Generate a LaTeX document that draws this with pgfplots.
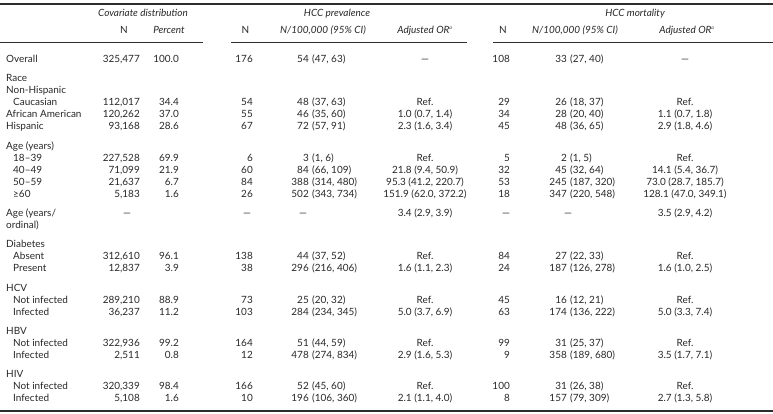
\documentclass[border=0pt]{standalone}
\usepackage{pgfplots}
\usepackage{pgfplotstable}
\pgfplotsset{compat=1.18}
\usepackage{fontspec}
\setmainfont{Lato}
\definecolor{txt}{RGB}{40,40,40}
\definecolor{rule}{RGB}{45,45,45}

\pgfplotsset{
  cell/.style={draw=none, mark=none, nodes near coords, point meta=explicit symbolic,
    every node near coord/.append style={font=\fontsize{10}{12}\selectfont, text=txt, inner sep=0pt, anchor=#1}},
}

% row labels: y (px from top), x (px), label
\pgfplotstableread[col sep=semicolon]{
y;x;label
60;6;Overall
79.3;6;Race
91.3;6;Non-Hispanic
103.3;13;Caucasian
115.3;6;African American
127.3;6;Hispanic
146.6;6;Age (years)
158.6;13;18–39
170.6;13;40–49
182.6;13;50–59
194.6;13;≥60
213.9;6;Age (years/
225.9;6;ordinal)
245.2;6;Diabetes
257.2;13;Absent
269.2;13;Present
288.5;6;HCV
300.5;13;Not infected
312.5;13;Infected
331.8;6;HBV
343.8;13;Not infected
355.8;13;Infected
375.1;6;HIV
387.1;13;Not infected
399.1;13;Infected
}\labels

% data rows
\pgfplotstableread[col sep=semicolon]{
y;N;pct;pN;pr1;pr2;pOR;mN;mr1;mr2;mOR
60;325,477;100.0;176;54;(47, 63);—;108;33;(27, 40);—
103.3;112,017;34.4;54;48;(37, 63);Ref.;29;26;(18, 37);Ref.
115.3;120,262;37.0;55;46;(35, 60);1.0 (0.7, 1.4);34;28;(20, 40);1.1 (0.7, 1.8)
127.3;93,168;28.6;67;72;(57, 91);2.3 (1.6, 3.4);45;48;(36, 65);2.9 (1.8, 4.6)
158.6;227,528;69.9;6;3;(1, 6);Ref.;5;2;(1, 5);Ref.
170.6;71,099;21.9;60;84;(66, 109);21.8 (9.4, 50.9);32;45;(32, 64);14.1 (5.4, 36.7)
182.6;21,637;6.7;84;388;(314, 480);95.3 (41.2, 220.7);53;245;(187, 320);73.0 (28.7, 185.7)
194.6;5,183;1.6;26;502;(343, 734);151.9 (62.0, 372.2);18;347;(220, 548);128.1 (47.0, 349.1)
257.2;312,610;96.1;138;44;(37, 52);Ref.;84;27;(22, 33);Ref.
269.2;12,837;3.9;38;296;(216, 406);1.6 (1.1, 2.3);24;187;(126, 278);1.6 (1.0, 2.5)
300.5;289,210;88.9;73;25;(20, 32);Ref.;45;16;(12, 21);Ref.
312.5;36,237;11.2;103;284;(234, 345);5.0 (3.7, 6.9);63;174;(136, 222);5.0 (3.3, 7.4)
343.8;322,936;99.2;164;51;(44, 59);Ref.;99;31;(25, 37);Ref.
355.8;2,511;0.8;12;478;(274, 834);2.9 (1.6, 5.3);9;358;(189, 680);3.5 (1.7, 7.1)
387.1;320,339;98.4;166;52;(45, 60);Ref.;100;31;(26, 38);Ref.
399.1;5,108;1.6;10;196;(106, 360);2.1 (1.1, 4.0);8;157;(79, 309);2.7 (1.3, 5.8)
}\data

% Age (years/ordinal) row: centred cells
\pgfplotstableread[col sep=semicolon]{
x;y;m
127;213.9;—
247;213.9;—
303;213.9;—
425;213.9;3.4 (2.9, 3.9)
506;213.9;—
568;213.9;—
685;213.9;3.5 (2.9, 4.2)
}\ordinal

\begin{document}
\begin{tikzpicture}
\begin{axis}[
  scale only axis, width=773bp, height=414bp,
  xmin=0, xmax=773, ymin=0, ymax=414, y dir=reverse,
  hide axis, clip=false,
]
% rules
\draw[rule, line width=1.1bp] (axis cs:0,4) -- (axis cs:773,4);
\draw[rule, line width=0.9bp] (axis cs:0,42) -- (axis cs:203,42);
\draw[rule, line width=0.9bp] (axis cs:231,42) -- (axis cs:467,42);
\draw[rule, line width=0.9bp] (axis cs:493,42) -- (axis cs:773,42);
\draw[rule, line width=1.1bp] (axis cs:0,411) -- (axis cs:773,411);

% headers
\begin{scope}[every node/.style={font=\fontsize{10}{12}\selectfont, text=txt, inner sep=0pt, anchor=mid}]
\node at (axis cs:143,14) {\itshape Covariate distribution};
\node at (axis cs:124,31) {N};
\node at (axis cs:169,31) {\itshape Percent};
\node at (axis cs:245.5,31) {N};
\node at (axis cs:337,14) {\itshape HCC prevalence};
\node at (axis cs:323,31) {\itshape N/100,000 (95\% CI)};
\node at (axis cs:425,31) {\itshape Adjusted OR\textsuperscript{\tiny a}};
\node at (axis cs:503,31) {N};
\node at (axis cs:635,14) {\itshape HCC mortality};
\node at (axis cs:575,31) {\itshape N/100,000 (95\% CI)};
\node at (axis cs:687,31) {\itshape Adjusted OR\textsuperscript{\tiny a}};
\end{scope}

% row labels
\addplot[cell=mid west] table[x=x, y=y, meta=label] {\labels};
% covariate distribution
\addplot[cell=mid east] table[x expr=140, y=y, meta=N] {\data};
\addplot[cell=mid east] table[x expr=179, y=y, meta=pct] {\data};
% prevalence
\addplot[cell=mid east] table[x expr=253, y=y, meta=pN] {\data};
\addplot[cell=mid east] table[x expr=309, y=y, meta=pr1] {\data};
\addplot[cell=mid west] table[x expr=312, y=y, meta=pr2] {\data};
\addplot[cell=mid] table[x expr=425, y=y, meta=pOR] {\data};
% mortality
\addplot[cell=mid east] table[x expr=510, y=y, meta=mN] {\data};
\addplot[cell=mid east] table[x expr=567, y=y, meta=mr1] {\data};
\addplot[cell=mid west] table[x expr=570, y=y, meta=mr2] {\data};
\addplot[cell=mid] table[x expr=685, y=y, meta=mOR] {\data};
% ordinal age row
\addplot[cell=mid] table[x=x, y=y, meta=m] {\ordinal};
\end{axis}
\pgfresetboundingbox
\path (0,0) rectangle (773bp,414bp);
\end{tikzpicture}
\end{document}
